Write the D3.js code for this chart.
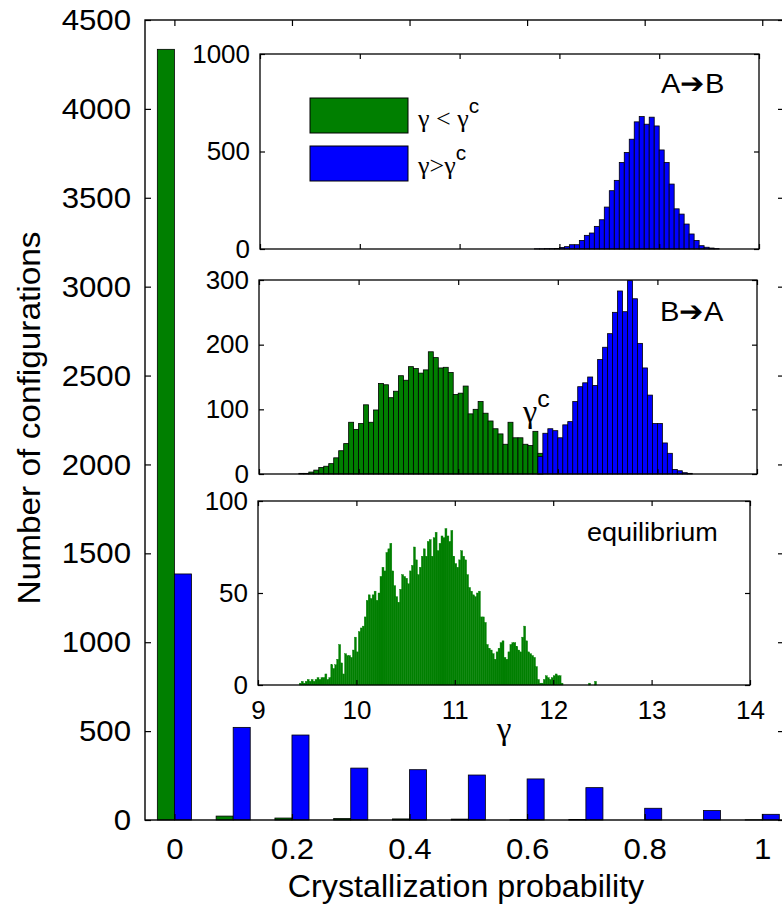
<style>
body {margin:0; background:#fff;}
text {font-family:'Liberation Sans', Arial, sans-serif; fill:#000;}
.greek {font-family:'Liberation Serif', 'DejaVu Serif', serif;}
</style>
<script src='https://d3js.org/d3.v7.min.js'></script>
<svg id='chart'></svg>
<script>
// main histogram: crystallization probability, split by gamma below / above gamma^c
var probCats=[0,0.1,0.2,0.3,0.4,0.5,0.6,0.7,0.8,0.9,1];
var belowCounts=[4335,22,11,8,6,5,2,3,0,0,1];
var aboveCounts=[1384,521,478,292,283,253,231,182,66,53,32];
var mainYTicks=[0,500,1000,1500,2000,2500,3000,3500,4000,4500];
var mainXTicks=[0,0.2,0.4,0.6,0.8,1];

// inset A->B (bins of 0.05 starting at abStart)
var abStart=11.75, binW=0.05;
var abCounts=[1,1,2,2,3,8,12,22,22,44,70,82,116,150,215,299,352,444,495,563,
              652,679,640,676,631,508,444,333,206,179,128,77,44,17,9,5,2];

// inset B->A
var baBelowStart=9.40;
var baBelow=[1,1,3,6,10,12,16,25,36,47,80,69,78,107,80,99,140,138,118,128,
             152,145,166,163,156,161,189,180,164,165,157,123,125,136,93,100,112,94,82,70,
             62,46,80,56,56,46,44,66,32];
var baAboveStart=11.80;
var baAbove=[27,63,70,67,56,76,81,112,135,141,150,137,177,196,217,250,283,251,299,271,
             202,164,122,78,78,48,32,7,5,2,1];

// inset equilibrium (bins of 0.02)
var eqStart=9.40, eqW=0.02;
var eqCounts=[0,1,2,1,2,3,2,3,2,3, 4,3,4,4,6,3,4,11,9,11,
              14,22,12,6,17,16,16,15,19,26, 18,29,31,32,37,46,49,47,49,51,
              46,50,59,64,62,72,74,77,62,54, 48,45,52,60,59,58,55,62,65,75,
              68,60,64,70,74,70,78,79,70,80, 83,73,77,81,80,85,81,78,84,70,
              66,64,68,73,70,68,60,53,51,49, 48,50,51,37,37,34,22,20,19,17,
              14,18,20,23,24,15,14,18,22,23, 23,21,19,18,26,32,24,18,17,16,
              15,10,3,1,1,3,5,4,3,4, 5,6,5,5,1,0,0,0,0,0,
              0,0,0,0,0,0,0,0,1,0, 0,2];

var gammaTicks=[9,10,11,12,13,14];
var green='#007f00', blue='#0000ff';
var SX=1.04; // text in the source figure is slightly wide

var svg=d3.select('#chart').attr('width',782).attr('height',906);

function styleAxis(g,size){
    g.attr('font-size',null).attr('font-family',null);
    g.select('.domain').remove();
    g.selectAll('line').attr('stroke','#000').attr('stroke-width',1.2);
    g.selectAll('text').style('font-size',size+'px').attr('transform','scale('+SX+',1)');
}
function label(g,x,y,s,size,anchor){
    return g.append('text').attr('transform','translate('+x+','+y+') scale('+SX+',1)')
            .attr('text-anchor',anchor||'start').style('font-size',size+'px').text(s);
}
var fmt=d3.format('d');

// ---------- main axes ----------
var mL=145,mR=784,mT=20,mB=820;
var mx=d3.scaleLinear().domain([-0.05,1.037]).range([mL,mR]);
var my=d3.scaleLinear().domain([0,4500]).range([mB,mT]);
var bw=mx(0.029)-mx(0);

svg.append('rect').attr('x',mL).attr('y',mT).attr('width',mR-mL).attr('height',mB-mT)
   .attr('fill','#fff');
svg.append('g').selectAll('rect').data(probCats).join('rect')
   .attr('x',function(d){return mx(d)-bw;}).attr('width',bw)
   .attr('y',function(d,i){return my(belowCounts[i]);})
   .attr('height',function(d,i){return mB-my(belowCounts[i]);})
   .attr('fill',green).attr('stroke','#000').attr('stroke-width',0.8);
svg.append('g').selectAll('rect').data(probCats).join('rect')
   .attr('x',function(d){return mx(d);}).attr('width',bw)
   .attr('y',function(d,i){return my(aboveCounts[i]);})
   .attr('height',function(d,i){return mB-my(aboveCounts[i]);})
   .attr('fill',blue).attr('stroke','#000').attr('stroke-width',0.8);

svg.append('g').attr('transform','translate('+mL+',0)')
   .call(d3.axisLeft(my).tickValues(mainYTicks).tickSizeInner(-6).tickSizeOuter(0)
         .tickPadding(14/SX).tickFormat(fmt))
   .call(styleAxis,30);
svg.append('g').attr('transform','translate('+mR+',0)')
   .call(d3.axisRight(my).tickValues(mainYTicks).tickSizeInner(-6).tickSizeOuter(0).tickFormat(''))
   .call(styleAxis,30);
svg.append('g').attr('transform','translate(0,'+mB+')')
   .call(d3.axisBottom(mx).tickValues(mainXTicks).tickSizeInner(-6).tickSizeOuter(0).tickPadding(18)
         .tickFormat(function(d){return String(d);}))
   .call(styleAxis,30);
svg.append('g').attr('transform','translate(0,'+mT+')')
   .call(d3.axisTop(mx).tickValues(mainXTicks).tickSizeInner(-6).tickSizeOuter(0).tickFormat(''))
   .call(styleAxis,30);
svg.append('rect').attr('x',mL).attr('y',mT).attr('width',mR-mL).attr('height',mB-mT)
   .attr('fill','none').attr('stroke','#000').attr('stroke-width',1.4);

label(svg,466,897,'Crystallization probability',31,'middle');
svg.append('text').attr('transform','translate(40,418) scale('+SX+',1) rotate(-90)')
   .attr('text-anchor','middle').style('font-size','30px')
   .attr('textLength',373).attr('lengthAdjust','spacingAndGlyphs')
   .text('Number of configurations');

// ---------- insets ----------
function inset(c){
    var g=svg.append('g');
    var x=d3.scaleLinear().domain([9,14]).range([c.l,c.r]);
    var y=d3.scaleLinear().domain([0,c.ymax]).range([c.b,c.t]);
    g.append('rect').attr('x',c.l).attr('y',c.t).attr('width',c.r-c.l).attr('height',c.b-c.t)
     .attr('fill','#fff');
    c.series.forEach(function(s){
        g.append('g').selectAll('rect').data(s.counts).join('rect')
         .attr('x',function(d,i){return x(s.start+i*s.w);})
         .attr('width',x(s.w)-x(0))
         .attr('y',function(d){return y(d);})
         .attr('height',function(d){return c.b-y(d);})
         .attr('fill',s.color).attr('stroke',s.edge).attr('stroke-width',s.sw);
    });
    g.append('g').attr('transform','translate('+c.l+',0)')
     .call(d3.axisLeft(y).tickValues(c.yt).tickSizeInner(-5).tickSizeOuter(0)
           .tickPadding(10/SX).tickFormat(fmt))
     .call(styleAxis,25);
    g.append('g').attr('transform','translate('+c.r+',0)')
     .call(d3.axisRight(y).tickValues(c.yt).tickSizeInner(-5).tickSizeOuter(0).tickFormat(''))
     .call(styleAxis,25);
    g.append('g').attr('transform','translate(0,'+c.b+')')
     .call(d3.axisBottom(x).tickValues(gammaTicks).tickSizeInner(-5).tickSizeOuter(0).tickPadding(16)
           .tickFormat(c.xlab?fmt:''))
     .call(styleAxis,25);
    g.append('g').attr('transform','translate(0,'+c.t+')')
     .call(d3.axisTop(x).tickValues(gammaTicks).tickSizeInner(-5).tickSizeOuter(0).tickFormat(''))
     .call(styleAxis,25);
    g.append('rect').attr('x',c.l).attr('y',c.t).attr('width',c.r-c.l).attr('height',c.b-c.t)
     .attr('fill','none').attr('stroke','#000').attr('stroke-width',1.3);
    return g;
}

var gAB=inset({l:260,r:759,t:54,b:249,ymax:1000,yt:[0,500,1000],xlab:false,
    series:[{start:abStart,w:binW,counts:abCounts,color:blue,edge:'#000',sw:0.8}]});
var gBA=inset({l:259,r:757,t:280,b:474,ymax:300,yt:[0,100,200,300],xlab:false,
    series:[{start:baBelowStart,w:binW,counts:baBelow,color:green,edge:'#000',sw:0.8},
            {start:baAboveStart,w:binW,counts:baAbove,color:blue,edge:'#000',sw:0.8}]});
var gEq=inset({l:258,r:750,t:501,b:685,ymax:100,yt:[0,50,100],xlab:true,
    series:[{start:eqStart,w:eqW,counts:eqCounts,color:green,edge:green,sw:0.4}]});

label(gAB,661,93,'A\u2794B',28);
label(gBA,660,321,'B\u2794A',28);
label(gEq,587,541,'equilibrium',26);
label(gEq,504,739,'\u03b3',32,'middle').attr('class','greek');
var gc=label(gBA,523,422,'\u03b3',31).attr('class','greek');
gc.append('tspan').attr('dy',-15).style('font-size','24px').style('font-family','Liberation Sans').text('c');

// legend
gAB.append('rect').attr('x',310).attr('y',98).attr('width',98).attr('height',35)
   .attr('fill',green).attr('stroke','#000').attr('stroke-width',1);
gAB.append('rect').attr('x',310).attr('y',146).attr('width',98).attr('height',35)
   .attr('fill',blue).attr('stroke','#000').attr('stroke-width',1);
var l1=label(gAB,418,127,'\u03b3 < \u03b3',25).attr('class','greek');
l1.append('tspan').attr('dy',-14).style('font-size','20px').style('font-family','Liberation Sans').text('c');
var l2=label(gAB,418,174,'\u03b3>\u03b3',25).attr('class','greek');
l2.append('tspan').attr('dy',-14).style('font-size','20px').style('font-family','Liberation Sans').text('c');
</script>
